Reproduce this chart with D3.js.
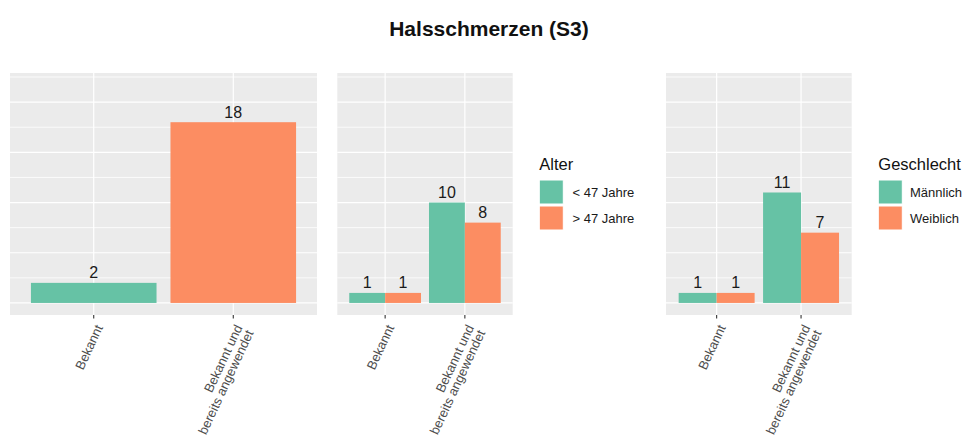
<!DOCTYPE html>
<html><head><meta charset="utf-8">
<script src="https://cdn.jsdelivr.net/npm/d3@7"></script>
<style>body{margin:0;background:#fff;} svg{display:block;font-family:"Liberation Sans",Arial,sans-serif;}</style>
</head><body><svg id="c" width="965" height="437"></svg>
<script>
const title = "Halsschmerzen (S3)";
const categories = ["Bekannt", "Bekannt und\nbereits angewendet"];
const totalValues = [2, 18];
const alterGroups = ["< 47 Jahre", "> 47 Jahre"];
const alterYoung = [1, 10];
const alterOld = [1, 8];
const geschlechtGroups = ["Männlich", "Weiblich"];
const maleValues = [1, 11];
const femaleValues = [1, 7];
const colors = ["#66c2a5", "#fc8d62"];

const svg = d3.select("#c");
svg.append("text").attr("x", 489).attr("y", 36).attr("text-anchor", "middle")
  .attr("font-size", 21).attr("font-weight", "bold").attr("fill", "#111").text(title);

const yTop = 73, yBot = 315;
const y = d3.scaleLinear().domain([-1.2, 22.9]).range([yBot, yTop]);
const majors = [0, 5, 10, 15, 20], minors = [2.5, 7.5, 12.5, 17.5, 22.5];

function panel(x0, x1, groups, series, legend) {
  const g = svg.append("g");
  const x = d3.scaleBand().domain(categories).range([x0, x1]).paddingInner(0.1).paddingOuter(0.15);
  g.append("rect").attr("x", x0).attr("y", yTop).attr("width", x1 - x0).attr("height", yBot - yTop).attr("fill", "#ebebeb");
  g.selectAll(".mn").data(minors).join("line").attr("x1", x0).attr("x2", x1)
    .attr("y1", d => y(d)).attr("y2", d => y(d)).attr("stroke", "#fff").attr("stroke-width", 0.8);
  g.selectAll(".mj").data(majors).join("line").attr("x1", x0).attr("x2", x1)
    .attr("y1", d => y(d)).attr("y2", d => y(d)).attr("stroke", "#fff").attr("stroke-width", 1.2);
  g.selectAll(".vx").data(categories).join("line")
    .attr("x1", d => x(d) + x.bandwidth() / 2).attr("x2", d => x(d) + x.bandwidth() / 2)
    .attr("y1", yTop).attr("y2", yBot).attr("stroke", "#fff").attr("stroke-width", 1.2);
  if (groups === null) {
    categories.forEach((c, i) => {
      const v = series[i];
      g.append("rect").attr("x", x(c)).attr("width", x.bandwidth())
        .attr("y", y(v)).attr("height", y(0) - y(v)).attr("fill", colors[i]);
      g.append("text").attr("x", x(c) + x.bandwidth() / 2).attr("y", y(v) - 4.5)
        .attr("text-anchor", "middle").attr("font-size", 16).attr("fill", "#1a1a1a").text(v);
    });
  } else {
    const xs = d3.scaleBand().domain(groups).range([0, x.bandwidth()]);
    categories.forEach((c, i) => {
      groups.forEach((gr, j) => {
        const v = series[j][i];
        g.append("rect").attr("x", x(c) + xs(gr)).attr("width", xs.bandwidth())
          .attr("y", y(v)).attr("height", y(0) - y(v)).attr("fill", colors[j]);
        g.append("text").attr("x", x(c) + xs(gr) + xs.bandwidth() / 2).attr("y", y(v) - 4.5)
          .attr("text-anchor", "middle").attr("font-size", 16).attr("fill", "#1a1a1a").text(v);
      });
    });
  }
  categories.forEach(c => {
    const cx = x(c) + x.bandwidth() / 2;
    g.append("line").attr("x1", cx).attr("x2", cx).attr("y1", yBot).attr("y2", yBot + 3.5)
      .attr("stroke", "#333").attr("stroke-width", 1.1);
    const t = g.append("text").attr("transform", `translate(${cx},${yBot + 8}) rotate(-65)`)
      .attr("text-anchor", "end").attr("font-size", 13).attr("fill", "#4d4d4d");
    c.split("\n").forEach((line, k) => {
      t.append("tspan").attr("x", 0).attr("dy", k === 0 ? "0.8em" : "0.95em").text(line);
    });
  });
  if (legend) {
    const L = svg.append("g");
    L.append("text").attr("x", legend.x).attr("y", 169.5).attr("font-size", 16.5).attr("fill", "#111").text(legend.title);
    groups.forEach((gr, j) => {
      L.append("rect").attr("x", legend.x).attr("y", 180 + j * 26).attr("width", 24).attr("height", 24)
        .attr("fill", colors[j]).attr("stroke", "#fff").attr("stroke-width", 1);
      L.append("text").attr("x", legend.tx).attr("y", 197 + j * 26).attr("font-size", 13)
        .attr("fill", "#1a1a1a").text(gr);
    });
  }
}

panel(10, 317, null, totalValues, null);
panel(337.3, 512.7, alterGroups, [alterYoung, alterOld], {x: 539.3, tx: 572.5, title: "Alter"});
panel(666, 851.7, geschlechtGroups, [maleValues, femaleValues], {x: 878.3, tx: 910, title: "Geschlecht"});
</script></body></html>
